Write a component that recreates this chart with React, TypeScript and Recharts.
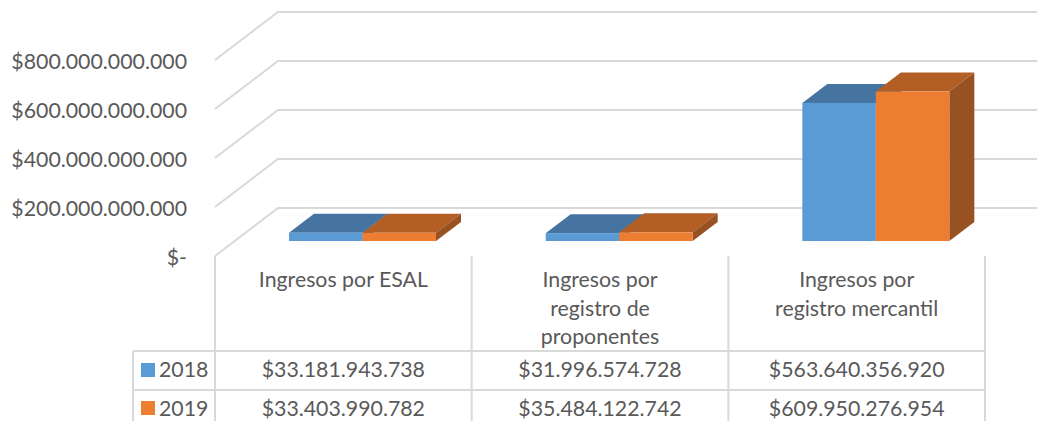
import { BarChart, Bar, XAxis, YAxis, CartesianGrid } from 'recharts'

const categories = ['Ingresos por ESAL', 'Ingresos por registro de proponentes', 'Ingresos por registro mercantil']
const categoryLines = [
    ['Ingresos por ESAL'],
    ['Ingresos por', 'registro de', 'proponentes'],
    ['Ingresos por', 'registro mercantil']
]
const seriesNames = ['2018', '2019']
const values2018 = [33181943738, 31996574728, 563640356920]
const values2019 = [33403990782, 35484122742, 609950276954]
const yTicks = [0, 200000000000, 400000000000, 600000000000, 800000000000]

const chartData = categories.map((name, i) => ({
    name,
    v2018: values2018[i],
    v2019: values2019[i]
}))

const BLUE = '#5B9BD5'
const ORANGE = '#ED7D31'
const LINE = '#D9D9D9'
const TEXT = '#595959'
const FONT = 'Lato, "Open Sans", sans-serif'
const FONT_SIZE = 21.3

// wall depth of the fake 3D box, and where the bars sit inside it
const WALL_DX = 63
const WALL_DY = -48
const BAR_DX = 19
const BAR_DY = -15
const TOP_DX = 25
const TOP_DY = -19

const CELL_W = 256.67
const AXIS_Y = 256
const ROW_1 = 351
const ROW_2 = 390
const BOTTOM = 421
const HEADER_X = 133

const money = (v: number) => {
    if (v === 0) return '$-'
    return '$' + String(v).replace(/\B(?=(\d{3})+(?!\d))/g, '.')
}

// front, top and side faces of one column
const makeBar = (front: string, top: string, side: string) => (props: any) => {
    const x = props.x + BAR_DX
    const y = props.y + BAR_DY
    const w = props.width
    const h = props.height
    return (
        <g>
            <polygon points={`${x},${y} ${x + TOP_DX},${y + TOP_DY} ${x + w + TOP_DX},${y + TOP_DY} ${x + w},${y}`} fill={top} />
            <polygon points={`${x + w},${y} ${x + w + TOP_DX},${y + TOP_DY} ${x + w + TOP_DX},${y + h + TOP_DY} ${x + w},${y + h}`} fill={side} />
            <rect x={x} y={y} width={w} height={h} fill={front} />
        </g>
    )
}

const GridLine = (props: any) => {
    const { x1, y1, x2 } = props
    return (
        <polyline
            key={props.key ?? y1}
            points={`${x1},${y1} ${x1 + WALL_DX},${y1 + WALL_DY} ${x2 + WALL_DX},${y1 + WALL_DY}`}
            fill="none"
            stroke={LINE}
            strokeWidth={2}
        />
    )
}

const Cell = ({ x, y, children, anchor = 'middle' }: any) => (
    <text x={x} y={y} textAnchor={anchor} dominantBaseline="central" fill={TEXT} fontSize={FONT_SIZE} fontFamily={FONT}>
        {children}
    </text>
)

// category label plus the data table column under it
const TableTick = (props: any) => {
    const { x, index } = props
    const left = x - CELL_W / 2
    const right = x + CELL_W / 2
    return (
        <g>
            {categoryLines[index].map((line, i) => (
                <Cell key={line} x={x} y={279 + i * 28.5}>{line}</Cell>
            ))}
            <Cell x={x} y={369}>{money(values2018[index])}</Cell>
            <Cell x={x} y={408}>{money(values2019[index])}</Cell>
            <line x1={right} y1={AXIS_Y} x2={right} y2={BOTTOM} stroke={LINE} strokeWidth={2} />
            {index === 0 && (
                <g>
                    <line x1={left} y1={AXIS_Y} x2={left} y2={BOTTOM} stroke={LINE} strokeWidth={2} />
                    <line x1={HEADER_X} y1={ROW_1} x2={HEADER_X} y2={BOTTOM} stroke={LINE} strokeWidth={2} />
                    <line x1={HEADER_X} y1={ROW_1} x2={left + CELL_W * 3} y2={ROW_1} stroke={LINE} strokeWidth={2} />
                    <line x1={HEADER_X} y1={ROW_2} x2={left + CELL_W * 3} y2={ROW_2} stroke={LINE} strokeWidth={2} />
                    <rect x={141} y={363} width={14} height={14} fill={BLUE} />
                    <rect x={141} y={401} width={14} height={14} fill={ORANGE} />
                    <Cell x={159} y={369} anchor="start">{seriesNames[0]}</Cell>
                    <Cell x={159} y={408} anchor="start">{seriesNames[1]}</Cell>
                </g>
            )}
        </g>
    )
}

export default function App() {
    return (
        <div style={{ position: 'fixed', left: 0, top: 0, width: 1037, height: 421, overflow: 'hidden', background: '#fff' }}>
            <BarChart
                width={1037}
                height={421}
                data={chartData}
                margin={{ top: 60, right: 52, bottom: 0, left: 0 }}
                barSize={73.5}
                barGap={0}
            >
                <CartesianGrid vertical={false} horizontal={GridLine as any} />
                <XAxis
                    dataKey="name"
                    height={165}
                    axisLine={false}
                    tickLine={false}
                    interval={0}
                    tick={<TableTick />}
                />
                <YAxis
                    width={215}
                    domain={[0, 800000000000]}
                    ticks={yTicks}
                    tickFormatter={money}
                    axisLine={false}
                    tickLine={false}
                    tickMargin={22}
                    tick={{ fill: TEXT, fontSize: FONT_SIZE, fontFamily: FONT, dy: 1 }}
                />
                <Bar dataKey="v2018" name={seriesNames[0]} fill={BLUE} isAnimationActive={false} shape={makeBar(BLUE, '#44749F', '#3E6A92')} />
                <Bar dataKey="v2019" name={seriesNames[1]} fill={ORANGE} isAnimationActive={false} shape={makeBar(ORANGE, '#B35E25', '#985222')} />
            </BarChart>
        </div>
    )
}
